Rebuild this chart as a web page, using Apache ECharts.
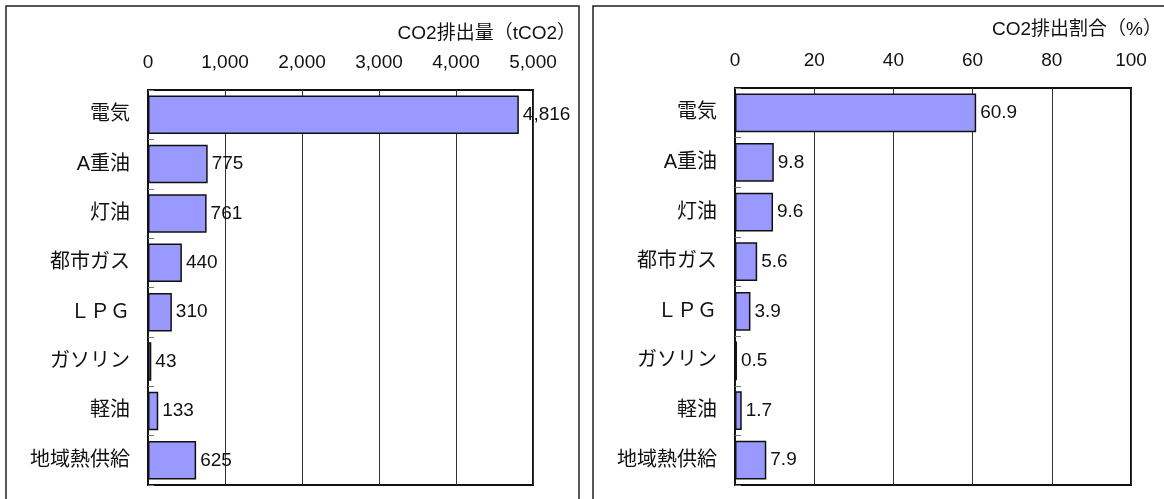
<!DOCTYPE html>
<html>
<head>
<meta charset="utf-8">
<script src="https://cdn.jsdelivr.net/npm/echarts@6/dist/echarts.min.js"></script>
<style>html,body{margin:0;padding:0;background:#fff;}#c{width:1164px;height:499px;}</style>
</head>
<body>
<div id="c"></div>
<script>
const categories = ['電気', 'A重油', '灯油', '都市ガス', 'ＬＰＧ', 'ガソリン', '軽油', '地域熱供給'];
const emissions = [4816, 775, 761, 440, 310, 43, 133, 625];
const shares = [60.9, 9.8, 9.6, 5.6, 3.9, 0.5, 1.7, 7.9];
const leftTitle = 'CO2排出量（tCO2）';
const rightTitle = 'CO2排出割合（%）';

const FONT = '"Liberation Sans", Arial, "Noto Sans CJK JP", sans-serif';
const chart = echarts.init(document.getElementById('c'), null, {renderer: 'canvas'});

function xAxis(gridIndex, max, interval, fmt, margin) {
  return {
    type: 'value', gridIndex, position: 'top', min: 0, max, interval,
    axisLine: {show: false}, axisTick: {show: false},
    axisLabel: {color: '#111', fontSize: 19, fontFamily: FONT, margin, formatter: fmt},
    splitLine: {show: true, lineStyle: {color: '#333', width: 1}}
  };
}
function yAxis(gridIndex) {
  return {
    type: 'category', gridIndex, data: categories, inverse: true,
    axisLine: {show: true, lineStyle: {color: '#111', width: 1.5}},
    axisTick: {show: true, inside: true, length: 6, lineStyle: {color: '#777', width: 1}},
    axisLabel: {color: '#111', fontSize: 20, fontFamily: FONT, margin: 18},
    splitLine: {show: false}
  };
}
function barSeries(idx, data, fmt) {
  return {
    type: 'bar', xAxisIndex: idx, yAxisIndex: idx, data,
    barCategoryGap: '22%',
    itemStyle: {color: '#9999FF', borderColor: '#111', borderWidth: 1.5},
    label: {show: true, position: 'right', distance: 4, color: '#111', fontSize: 19, fontFamily: FONT, formatter: fmt},
    silent: true, animation: false
  };
}

chart.setOption({
  animation: false,
  backgroundColor: '#fff',
  title: [
    {text: leftTitle, right: 1164 - 581, top: 19, textStyle: {fontSize: 19, fontWeight: 'normal', color: '#111', fontFamily: FONT}},
    {text: rightTitle, right: -3, top: 15, textStyle: {fontSize: 19, fontWeight: 'normal', color: '#111', fontFamily: FONT}}
  ],
  grid: [
    {left: 148, right: 1164 - 533, top: 90, bottom: 14, show: true, borderColor: '#111', borderWidth: 2, containLabel: false},
    {left: 735, right: 1164 - 1131, top: 88, bottom: 14, show: true, borderColor: '#111', borderWidth: 2, containLabel: false}
  ],
  xAxis: [
    xAxis(0, 5000, 1000, v => v.toLocaleString('en-US'), 18),
    xAxis(1, 100, 20, v => String(v), 18)
  ],
  yAxis: [yAxis(0), yAxis(1)],
  series: [
    barSeries(0, emissions, p => p.value.toLocaleString('en-US')),
    barSeries(1, shares, p => p.value.toFixed(1))
  ],
  graphic: [
    {type: 'rect', shape: {x: 6, y: 6, width: 573, height: 520}, style: {fill: 'none', stroke: '#222', lineWidth: 1.5}, silent: true},
    {type: 'rect', shape: {x: 593, y: 6, width: 580, height: 520}, style: {fill: 'none', stroke: '#222', lineWidth: 1.5}, silent: true}
  ]
});
</script>
</body>
</html>
